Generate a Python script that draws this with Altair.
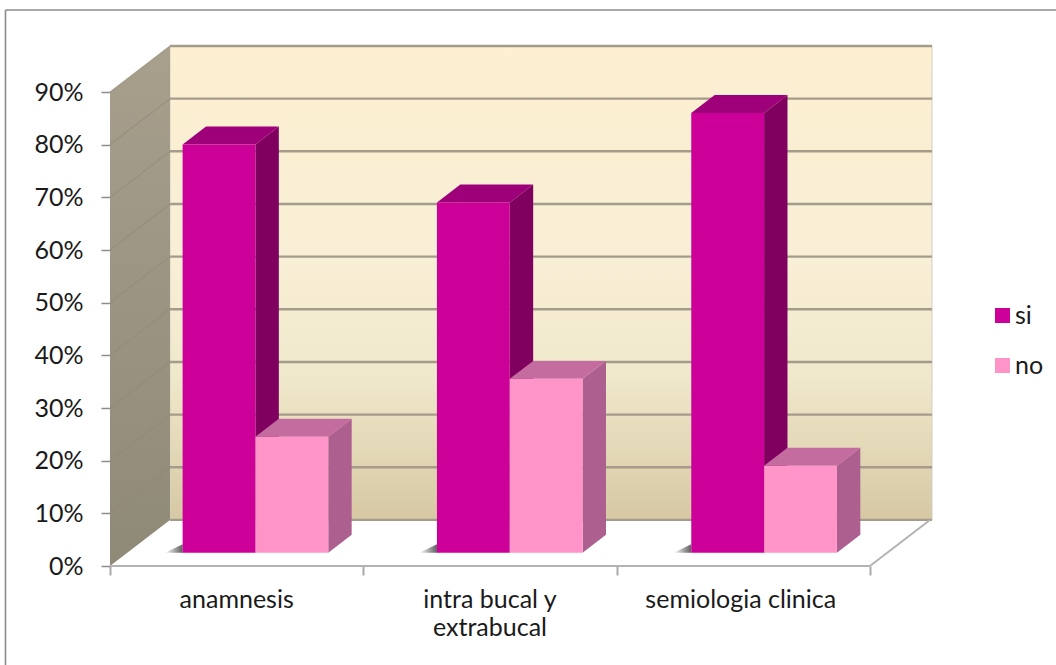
import altair as alt
import pandas as pd

# Survey shares per category, in percent
categories = ["anamnesis", "intra bucal y\nextrabucal", "semiologia clinica"]
series_names = ["si", "no"]
si_values = [77.5, 66.5, 83.5]
no_values = [22.0, 33.0, 16.5]
y_ticks = [0, 10, 20, 30, 40, 50, 60, 70, 80, 90]
x_ticks = [0, 1, 2, 3]
label_positions = [0.5, 1.5, 2.49]

# Oblique projection: the full depth of the box, in axis units
DEPTH_X = 0.2368
DEPTH_Y = 8.75
BAR_NEAR = 0.29   # depth fraction of a bar's front face
BAR_FAR = 0.68    # depth fraction of a bar's back face
GAP = 0.218       # space before the first bar of a group
BAR_W = 0.2875    # bar width
PITCH = 1.004     # distance between bar groups

X_MAX = 3.245
Y_MAX = 98.75
FONT = "Lato"
FONT_SIZE = 25
TEXT = "#1a1a1a"

x_scale = alt.Scale(domain=[0, X_MAX], nice=False, zero=False)
y_scale = alt.Scale(domain=[0, Y_MAX], nice=False, zero=False)

# Both axes are shared by every layer
x_axis = alt.Axis(
    values=x_ticks, labels=False, title=None, domain=False, grid=False,
    ticks=True, tickSize=9, tickColor="#a8a8a8", tickWidth=2,
)
y_axis = alt.Axis(
    values=y_ticks, title=None, domain=False, grid=False,
    ticks=True, tickSize=9, tickColor="#8c8c8c", tickWidth=1.5,
    labelExpr="datum.value + '%'", labelFont=FONT, labelFontSize=FONT_SIZE,
    labelColor=TEXT, labelPadding=18,
)


def X(field="x"):
    return alt.X(f"{field}:Q", scale=x_scale, axis=x_axis)


def Y(field="y"):
    return alt.Y(f"{field}:Q", scale=y_scale, axis=y_axis)


def X2(field="x2"):
    return alt.X2(f"{field}:Q")


def Y2(field="y2"):
    return alt.Y2(f"{field}:Q")


# Bar geometry in axis units
front_rows, side_rows, top_rows, shadow_rows = [], [], [], []
near_x, near_y = BAR_NEAR * DEPTH_X, BAR_NEAR * DEPTH_Y
far_x, far_y = BAR_FAR * DEPTH_X, BAR_FAR * DEPTH_Y
for c in range(len(categories)):
    for s, (name, values) in enumerate(zip(series_names, [si_values, no_values])):
        v = values[c]
        x0 = c * PITCH + near_x + GAP + s * BAR_W
        x1 = x0 + BAR_W
        bar = f"{name}-{c}"
        front_rows.append(dict(serie=name, x=x0, x2=x1, y=near_y, y2=near_y + v))
        side_rows += [
            dict(serie=name, bar=bar, x=x1, y=near_y, y2=near_y + v),
            dict(serie=name, bar=bar, x=x1 + far_x - near_x, y=far_y, y2=far_y + v),
        ]
        top_rows += [
            dict(serie=name, bar=bar, y=near_y + v, x=x0, x2=x1),
            dict(serie=name, bar=bar, y=far_y + v, x=x0 + far_x - near_x, x2=x1 + far_x - near_x),
        ]
    x0 = c * PITCH + near_x + GAP
    shadow_rows += [
        dict(bar=c, x=x0 - 0.07, y=near_y, y2=near_y),
        dict(bar=c, x=x0, y=near_y, y2=near_y + 1.6),
    ]

front = pd.DataFrame(front_rows)
side = pd.DataFrame(side_rows)
top = pd.DataFrame(top_rows)
shadow = pd.DataFrame(shadow_rows)

grid = pd.DataFrame({"v": y_ticks})
grid["x"] = DEPTH_X
grid["x2"] = X_MAX
grid["yb"] = grid["v"] + DEPTH_Y
grid["x0"] = 0.0

# Back wall
back_wall = (
    alt.Chart(pd.DataFrame([dict(x=DEPTH_X, x2=X_MAX, y=DEPTH_Y, y2=Y_MAX)]))
    .mark_rect(
        fill=alt.Gradient(
            gradient="linear", x1=0, y1=0, x2=0, y2=1,
            stops=[
                alt.GradientStop(offset=0, color="#fdefd0"),
                alt.GradientStop(offset=0.45, color="#f8efd6"),
                alt.GradientStop(offset=0.7, color="#f0e8cb"),
                alt.GradientStop(offset=1, color="#d6c8a3"),
            ],
        ),
        stroke="#d2cfc8",
        strokeWidth=1,
    )
    .encode(x=X(), x2=X2(), y=Y(), y2=Y2())
)

# Left wall
left_wall = (
    alt.Chart(pd.DataFrame([
        dict(x=0, y=0, y2=90),
        dict(x=DEPTH_X, y=DEPTH_Y, y2=90 + DEPTH_Y),
    ]))
    .mark_area(
        orient="vertical",
        fill=alt.Gradient(
            gradient="linear", x1=0, y1=0, x2=0, y2=1,
            stops=[
                alt.GradientStop(offset=0, color="#a89f8d"),
                alt.GradientStop(offset=1, color="#8f8977"),
            ],
        ),
    )
    .encode(x=X(), y=Y(), y2=Y2())
)

# Outline of the white floor
floor_edges = pd.DataFrame([
    dict(x=0, x2=3, y=0, y2=0),
    dict(x=3, x2=3 + DEPTH_X, y=0, y2=DEPTH_Y),
])
floor_lines = (
    alt.Chart(floor_edges)
    .mark_rule(color="#b3b3b3", strokeWidth=2)
    .encode(x=X(), x2=X2(), y=Y(), y2=Y2())
)

back_grid = (
    alt.Chart(grid)
    .mark_rule(color="#a49b8a", strokeWidth=2.4)
    .encode(x=X(), x2=X2(), y=Y("yb"))
)
wall_grid = (
    alt.Chart(grid[grid["v"] > 0])
    .mark_rule(color="#8f8875", strokeWidth=1.2, opacity=0.6)
    .encode(x=X("x0"), x2=X2("x"), y=Y("v"), y2=Y2("yb"))
)

shadow_layer = (
    alt.Chart(shadow)
    .mark_area(
        orient="vertical",
        fill=alt.Gradient(
            gradient="linear", x1=0, y1=0, x2=1, y2=0,
            stops=[
                alt.GradientStop(offset=0, color="#ffffff"),
                alt.GradientStop(offset=1, color="#5e5e5e"),
            ],
        ),
    )
    .encode(x=X(), y=Y(), y2=Y2(), detail="bar:N")
)


def side_face(name, color):
    return (
        alt.Chart(side[side["serie"] == name])
        .mark_area(orient="vertical", color=color)
        .encode(x=X(), y=Y(), y2=Y2(), detail="bar:N")
    )


def top_face(name, color):
    return (
        alt.Chart(top[top["serie"] == name])
        .mark_area(orient="horizontal", color=color)
        .encode(y=Y(), x=X(), x2=X2(), detail="bar:N")
    )


front_faces = (
    alt.Chart(front)
    .mark_rect()
    .encode(
        x=X(), x2=X2(), y=Y(), y2=Y2(),
        color=alt.Color(
            "serie:N",
            scale=alt.Scale(domain=series_names, range=["#cc0099", "#ff94c9"]),
            legend=alt.Legend(
                title=None,
                orient="none",
                legendX=880,
                legendY=257,
                symbolType="square",
                symbolSize=225,
                symbolStrokeWidth=0,
                labelFont=FONT,
                labelFontSize=FONT_SIZE,
                labelColor=TEXT,
                labelOffset=0,
                rowPadding=24,
            ),
        ),
    )
)

category_labels = (
    alt.Chart(pd.DataFrame({"label": categories, "x": label_positions, "y": [0, 0, 0]}))
    .mark_text(
        font=FONT, fontSize=FONT_SIZE, color=TEXT, align="center", baseline="alphabetic",
        dy=42, lineBreak="\n", lineHeight=28,
    )
    .encode(x=X(), y=Y(), text="label:N")
)

# Outer frame of the chart: only its left and top sides fall inside the page
frame_left = alt.Chart(pd.DataFrame({"a": [0]})).mark_rule(color="#8c8c8c", strokeWidth=1.6).encode(
    x=alt.value(-104.5), y=alt.value(-36), y2=alt.value(619)
)
frame_top = alt.Chart(pd.DataFrame({"a": [0]})).mark_rule(color="#8c8c8c", strokeWidth=1.6).encode(
    x=alt.value(-104.5), x2=alt.value(946), y=alt.value(-36)
)

chart = (
    alt.layer(
        frame_left, frame_top,
        back_wall, back_grid, left_wall, wall_grid, floor_lines, shadow_layer,
        side_face("si", "#800060"), top_face("si", "#9e0079"),
        side_face("no", "#ad6090"), top_face("no", "#c46c9f"),
        front_faces, category_labels,
    )
    .properties(
        width=822, height=520,
        padding={"left": 110, "top": 46, "right": 124, "bottom": 99},
        autosize=alt.AutoSizeParams(type="none"),
    )
    .configure_view(stroke=None)
)

chart.save("out.html", embed_options={"renderer": "svg", "actions": False})
